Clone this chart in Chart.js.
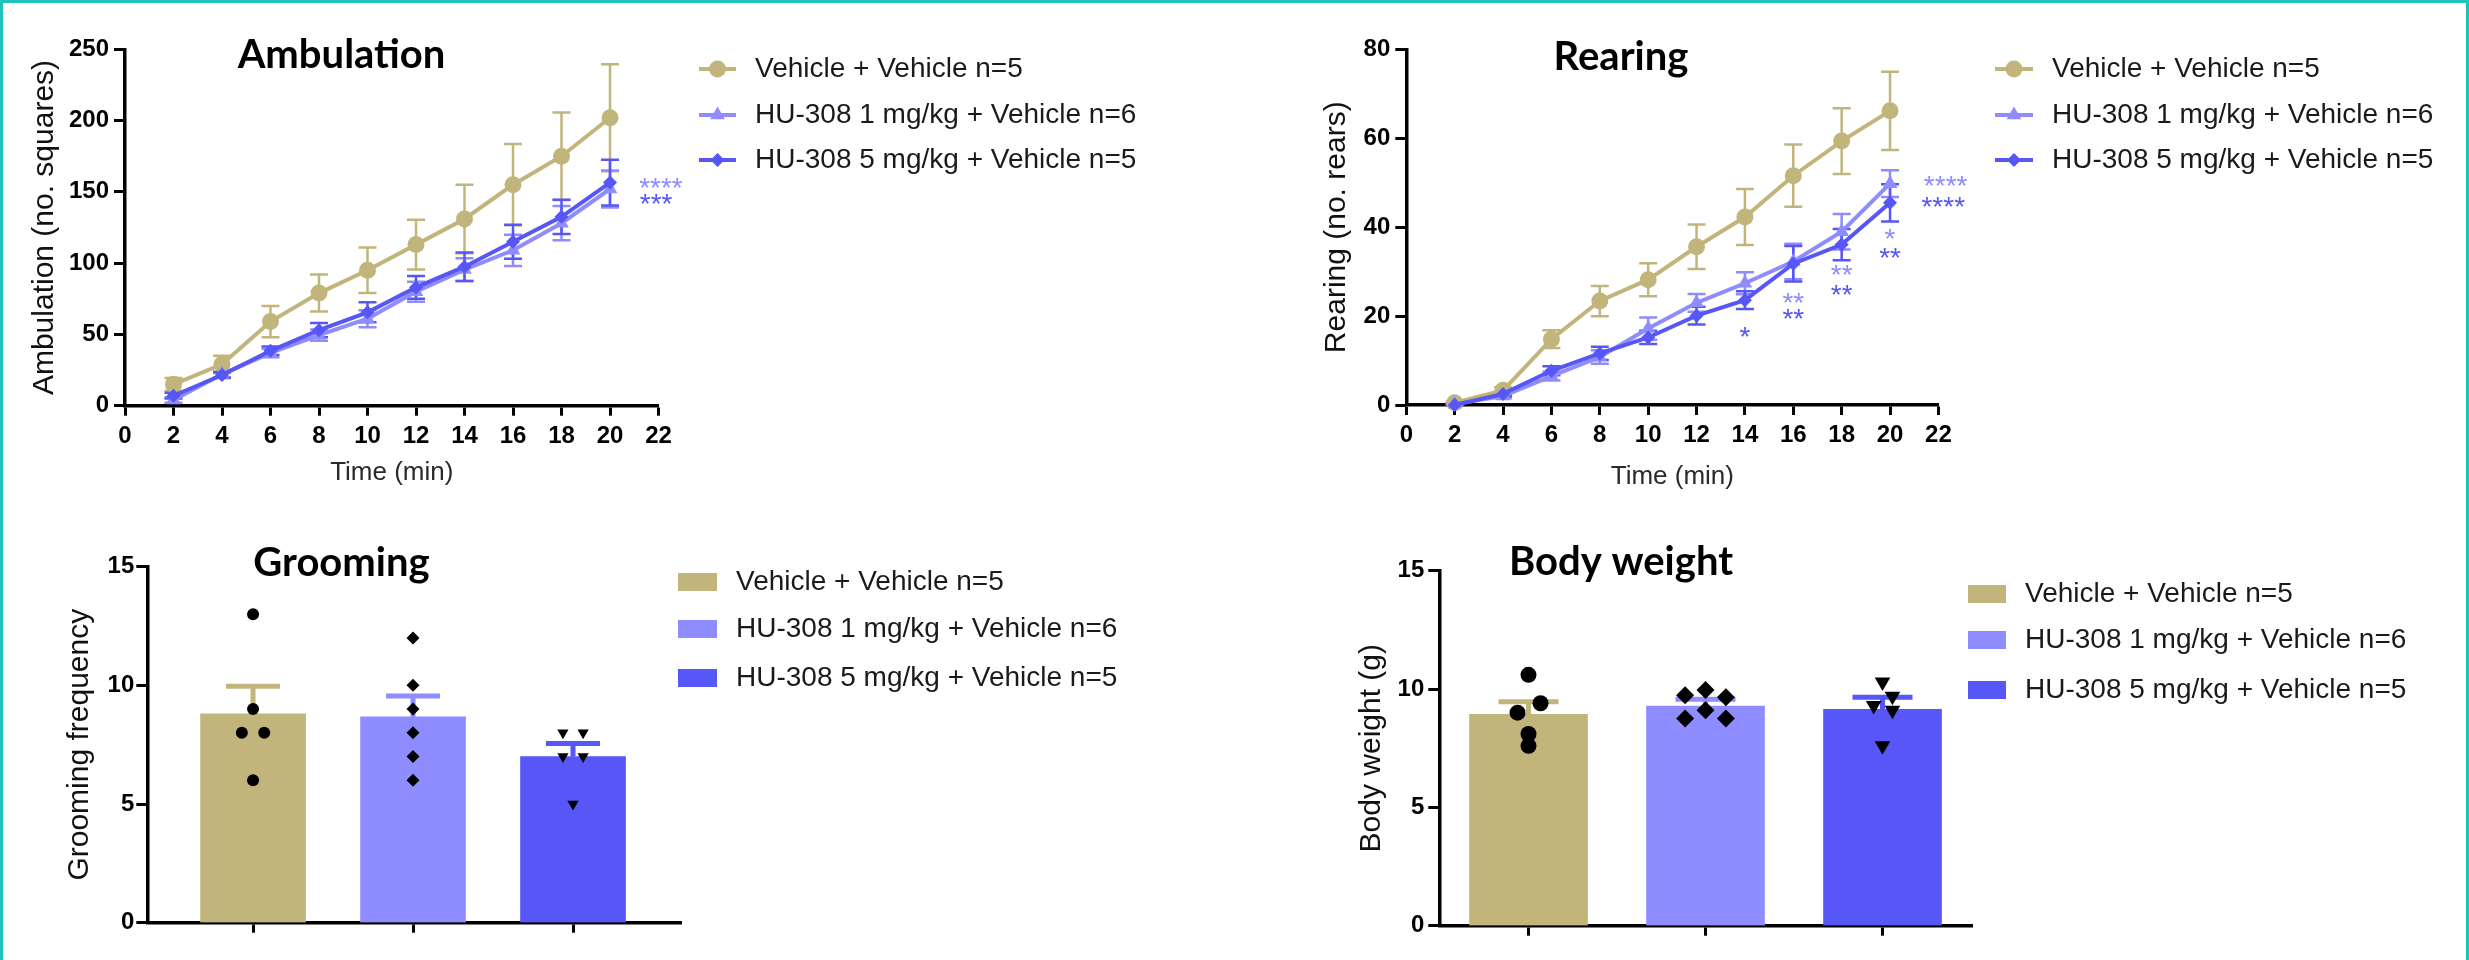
<!DOCTYPE html>
<html lang="en">
<head>
<meta charset="UTF-8">
<title>HU-308: ambulation, rearing, grooming and body weight</title>
<script src="https://cdn.jsdelivr.net/npm/chart.js"></script>
<style>
  html, body { margin: 0; background: #fff; }
  #figure { position: relative; width: 2469px; height: 960px; overflow: hidden; }
  #figure canvas { position: absolute; }
  #frame { position: absolute; left: 0; top: 0; right: 0; bottom: 0; border: 3px solid #1fc1bb; border-bottom: none; pointer-events: none; }
</style>
</head>
<body>
<div id="figure">
  <canvas id="ambulation" width="1234" height="500" style="left:0;top:0"></canvas>
  <canvas id="rearing" width="1235" height="500" style="left:1234px;top:0"></canvas>
  <canvas id="grooming" width="1234" height="460" style="left:0;top:500px"></canvas>
  <canvas id="bodyweight" width="1235" height="460" style="left:1234px;top:500px"></canvas>
  <div id="frame"></div>
</div>
<script>
// treatment groups
const groups = ['Vehicle + Vehicle n=5', 'HU-308 1 mg/kg + Vehicle n=6', 'HU-308 5 mg/kg + Vehicle n=5'];
const groupColors = ['#c1b57c', '#8e8cff', '#5756f7'];
const timeMin = [2, 4, 6, 8, 10, 12, 14, 16, 18, 20];

// ambulation (no. squares), mean and SEM
const ambVehicle = [15, 29, 59, 79, 95, 113, 131, 155, 175, 202];
const ambVehicleErr = [4.5, 6, 11, 13, 16, 17.5, 24, 28.5, 30.7, 37.6];
const amb1mg = [4, 22, 37, 49.5, 61, 80, 95.5, 109, 128, 152];
const amb1mgErr = [2, 2, 3, 4, 6, 7, 8, 11, 12, 13];
const amb5mg = [7, 21.5, 38.5, 53, 65.5, 83, 97.5, 115, 132.5, 156.5];
const amb5mgErr = [2, 2, 3, 5, 7, 8, 10, 12, 12, 16];

// rearing (no. rears), mean and SEM
const rearVehicle = [0.5, 3.3, 14.8, 23.4, 28.2, 35.6, 42.3, 51.6, 59.4, 66.2];
const rearVehicleErr = [0.3, 0.7, 2, 3.4, 3.7, 5, 6.3, 7, 7.4, 8.8];
const rear1mg = [0.2, 2, 6.5, 10.8, 17.2, 23, 27.4, 32.3, 39, 49.8];
const rear1mgErr = [0.2, 0.5, 1, 1.5, 2.5, 2, 2.5, 4, 4, 3];
const rear5mg = [0, 2.5, 7.7, 11.6, 15.2, 20.1, 23.6, 31.8, 36.1, 45.5];
const rear5mgErr = [0.2, 0.5, 1, 1.5, 1.5, 2, 2, 4, 3.5, 4.2];

// significance marks vs vehicle (time, level, group index)
const ambStarText = ['****', '***'];
const ambStarTime = [22.1, 21.9];
const ambStarLevel = [158, 146.6];
const ambStarGroup = [1, 2];

const rearStarText = ['*', '**', '**', '**', '**', '*', '**', '****', '****'];
const rearStarTime = [14, 16, 16, 18, 18, 20, 20, 22.3, 22.2];
const rearStarLevel = [16.9, 24.5, 20.9, 30.8, 26.3, 38.9, 34.6, 50.8, 46.1];
const rearStarGroup = [2, 1, 2, 1, 2, 1, 2, 1, 2];

// grooming frequency: means, SEM, individual animals
const groomMean = [8.8, 8.67, 7.0];
const groomSem = [1.16, 0.88, 0.55];
const groomVehicle = [13, 9, 8, 8, 6];
const groom1mg = [12, 10, 9, 8, 7, 6];
const groom5mg = [8, 8, 7, 7, 5];
const groomSpread = [[0, 0, -0.07, 0.07, 0], [0, 0, 0, 0, 0, 0], [-0.063, 0.063, -0.063, 0.063, 0]];

// body weight (g)
const bodyMean = [8.93, 9.28, 9.14];
const bodySem = [0.53, 0.29, 0.51];
const bodyVehicle = [10.6, 9.4, 9.0, 8.1, 7.6];
const body1mg = [9.96, 9.74, 9.65, 9.1, 8.76, 8.76];
const body5mg = [10.3, 9.7, 9.3, 9.1, 7.6];
const bodySpread = [[0, 0.068, -0.062, 0, 0], [0, -0.115, 0.115, 0, -0.115, 0.115], [0, 0.056, -0.05, 0.056, 0]];

const lineMarkers = [
  { pointStyle: 'circle', radius: 8.5 },
  { pointStyle: 'triangle', radius: 8.5 },
  { pointStyle: 'rectRot', radius: 7 }
];
const dotMarkers = [
  { pointStyle: 'circle', rotation: 0 },
  { pointStyle: 'rectRot', rotation: 0 },
  { pointStyle: 'triangle', rotation: 180 }
];

Chart.defaults.font.family = '"Liberation Sans", Arial, sans-serif';
Chart.defaults.color = '#000';
const TICK_FONT = { size: 24, weight: 'bold' };
const FONT_SANS = '"Liberation Sans", Arial, sans-serif';

// mean ± SEM whiskers under the line series
const lineErrorBars = {
  id: 'lineErrorBars',
  beforeDatasetsDraw(chart) {
    const { ctx, scales: { x, y } } = chart;
    chart.data.datasets.forEach(ds => {
      if (!ds.err) return;
      ctx.save();
      ctx.strokeStyle = ds.borderColor;
      ctx.lineWidth = 2.5;
      ds.data.forEach((p, j) => {
        const px = x.getPixelForValue(p.x);
        const top = y.getPixelForValue(p.y + ds.err[j]);
        const bot = y.getPixelForValue(Math.max(0, p.y - ds.err[j]));
        ctx.beginPath();
        ctx.moveTo(px, top); ctx.lineTo(px, bot);
        ctx.moveTo(px - 9, top); ctx.lineTo(px + 9, top);
        ctx.moveTo(px - 9, bot); ctx.lineTo(px + 9, bot);
        ctx.stroke();
      });
      ctx.restore();
    });
  }
};

// upper SEM whisker on each bar, drawn before the dots
const barErrorBars = {
  id: 'barErrorBars',
  afterDatasetDraw(chart, args, opts) {
    const ds = chart.data.datasets[args.index];
    if (!ds.sem) return;
    const { ctx, scales: { y } } = chart;
    args.meta.data.forEach((bar, j) => {
      const top = y.getPixelForValue(ds.data[j].y + ds.sem[j]);
      ctx.save();
      ctx.strokeStyle = ds.backgroundColor[j];
      ctx.lineWidth = 5;
      ctx.beginPath();
      ctx.moveTo(bar.x, bar.y); ctx.lineTo(bar.x, top);
      ctx.moveTo(bar.x - opts.cap, top); ctx.lineTo(bar.x + opts.cap, top);
      ctx.stroke();
      ctx.restore();
    });
  }
};

const sigStars = {
  id: 'sigStars',
  afterDatasetsDraw(chart, args, opts) {
    if (!opts.text) return;
    const { ctx, scales: { x, y } } = chart;
    ctx.save();
    ctx.font = '28px ' + FONT_SANS;
    ctx.textAlign = 'center';
    ctx.textBaseline = 'alphabetic';
    opts.text.forEach((t, i) => {
      ctx.fillStyle = groupColors[opts.group[i]];
      ctx.fillText(t, x.getPixelForValue(opts.time[i]), y.getPixelForValue(opts.level[i]) + 28 * 0.58);
    });
    ctx.restore();
  }
};

// panel heading and the legend at the right of each panel
const panelDecor = {
  id: 'panelDecor',
  afterDraw(chart, args, opts) {
    const ctx = chart.ctx;
    ctx.save();
    ctx.fillStyle = '#000';
    ctx.font = 'bold 40px Lato, "Open Sans", sans-serif';
    ctx.textAlign = 'center';
    ctx.textBaseline = 'middle';
    ctx.fillText(opts.title, opts.titleX, opts.titleY);

    ctx.font = '28px ' + FONT_SANS;
    ctx.textAlign = 'left';
    groups.forEach((name, i) => {
      const y = opts.rows[i];
      const c = groupColors[i];
      if (opts.kind === 'line') {
        ctx.strokeStyle = c;
        ctx.lineWidth = 4;
        ctx.beginPath(); ctx.moveTo(opts.x0, y); ctx.lineTo(opts.x1, y); ctx.stroke();
        ctx.fillStyle = c;
        Chart.helpers.drawPoint(ctx, { pointStyle: lineMarkers[i].pointStyle, radius: lineMarkers[i].radius, rotation: 0, borderWidth: 0 }, (opts.x0 + opts.x1) / 2, y);
      } else {
        ctx.fillStyle = c;
        ctx.fillRect(opts.x0, y - 9, opts.x1 - opts.x0, 18);
      }
      ctx.fillStyle = '#1a1a1a';
      ctx.fillText(name, opts.textX, y);
    });
    ctx.restore();
  }
};

function axisGrid(len) {
  return { display: true, drawOnChartArea: false, drawTicks: true, tickLength: len, tickWidth: 3, tickColor: '#000' };
}
const axisBorder = { display: true, color: '#000', width: 3.5 };

function yScale(g, max, step, label) {
  return {
    type: 'linear', min: 0, max: max,
    ticks: { stepSize: step, font: TICK_FONT, color: '#000', padding: g.tickPad },
    grid: axisGrid(11),
    border: axisBorder,
    title: { display: true, text: label, font: { size: 30 }, color: '#111', padding: 0 },
    afterFit: s => { s.width = g.left - (g.yTitleX - 18); }
  };
}

function layoutFor(g, padBottom) {
  return { padding: { left: g.yTitleX - 18, right: g.w - g.right, top: g.top, bottom: padBottom } };
}

function lineChart(id, g, series, errs, yMax, yStep, yLabel, title, legend, stars) {
  const padBottom = g.h - g.xTitleY - 15.6;
  new Chart(document.getElementById(id), {
    type: 'line',
    data: {
      datasets: series.map((vals, i) => ({
        label: groups[i],
        data: timeMin.map((t, j) => ({ x: t, y: vals[j] })),
        err: errs[i],
        borderColor: groupColors[i],
        backgroundColor: groupColors[i],
        borderWidth: 4,
        pointStyle: lineMarkers[i].pointStyle,
        pointRadius: lineMarkers[i].radius,
        pointBorderWidth: 0,
        pointBackgroundColor: groupColors[i],
        tension: 0,
        clip: false,
        order: 2 - i
      }))
    },
    options: {
      responsive: false,
      animation: false,
      devicePixelRatio: 1,
      events: [],
      layout: layoutFor(g, padBottom),
      scales: {
        x: {
          type: 'linear', min: 0, max: 22,
          ticks: { stepSize: 2, font: TICK_FONT, color: '#000', padding: 6, maxRotation: 0, autoSkip: false },
          grid: axisGrid(10),
          border: axisBorder,
          title: { display: true, text: 'Time (min)', font: { size: 26 }, color: '#2a2a2a', padding: 0 },
          afterFit: s => { s.height = g.h - padBottom - g.bottom; }
        },
        y: yScale(g, yMax, yStep, yLabel)
      },
      plugins: {
        legend: { display: false },
        tooltip: { enabled: false },
        panelDecor: Object.assign({ title: title, titleX: g.titleX, titleY: g.titleY, kind: 'line' }, legend),
        sigStars: stars
      }
    },
    plugins: [lineErrorBars, sigStars, panelDecor]
  });
}

function barChart(id, g, means, sems, points, spread, sizes, yLabel, title, legend) {
  const datasets = [{
    type: 'bar',
    data: means.map((m, i) => ({ x: i + 1, y: m })),
    backgroundColor: groupColors,
    barThickness: g.barWidth,
    sem: sems,
    order: 3
  }];
  points.forEach((vals, i) => {
    datasets.push({
      type: 'scatter',
      data: vals.map((v, j) => ({ x: i + 1 + spread[i][j], y: v })),
      pointStyle: dotMarkers[i].pointStyle,
      pointRotation: dotMarkers[i].rotation,
      pointRadius: sizes[i],
      pointBackgroundColor: '#000',
      pointBorderWidth: 0,
      clip: false,
      order: 0
    });
  });
  new Chart(document.getElementById(id), {
    type: 'bar',
    data: { datasets },
    options: {
      responsive: false,
      animation: false,
      devicePixelRatio: 1,
      events: [],
      layout: layoutFor(g, 5),
      scales: {
        x: {
          type: 'linear', min: g.xMin, max: g.xMax, bounds: 'data', offset: false,
          afterBuildTicks: s => { s.ticks = [1, 2, 3].map(v => ({ value: v })); },
          ticks: { display: false },
          grid: Object.assign(axisGrid(10), { offset: false }),
          border: axisBorder,
          afterFit: s => { s.height = g.h - 5 - g.bottom; }
        },
        y: yScale(g, 15, 5, yLabel)
      },
      plugins: {
        legend: { display: false },
        tooltip: { enabled: false },
        barErrorBars: { cap: g.cap },
        panelDecor: Object.assign({ title: title, titleX: g.titleX, titleY: g.titleY, kind: 'box' }, legend)
      }
    },
    plugins: [barErrorBars, panelDecor]
  });
}

lineChart('ambulation',
  { w: 1234, h: 500, left: 125, right: 658.5, top: 49.3, bottom: 405.7, yTitleX: 44.6, xTitleY: 473, tickPad: 5, titleX: 341.5, titleY: 55 },
  [ambVehicle, amb1mg, amb5mg], [ambVehicleErr, amb1mgErr, amb5mgErr],
  250, 50, 'Ambulation (no. squares)', 'Ambulation',
  { x0: 699, x1: 736, textX: 755, rows: [69, 115, 160] },
  { text: ambStarText, time: ambStarTime, level: ambStarLevel, group: ambStarGroup });

lineChart('rearing',
  { w: 1235, h: 500, left: 172.3, right: 704.4, top: 49.5, bottom: 405, yTitleX: 102.6, xTitleY: 477, tickPad: 5, titleX: 387, titleY: 57 },
  [rearVehicle, rear1mg, rear5mg], [rearVehicleErr, rear1mgErr, rear5mgErr],
  80, 20, 'Rearing (no. rears)', 'Rearing',
  { x0: 761, x1: 799, textX: 818, rows: [69, 115, 160] },
  { text: rearStarText, time: rearStarTime, level: rearStarLevel, group: rearStarGroup });

barChart('grooming',
  { w: 1234, h: 460, left: 147.3, right: 681, top: 66.7, bottom: 422.7, yTitleX: 80, tickPad: 2, xMin: 0.339, xMax: 3.675, barWidth: 105, cap: 27, titleX: 341.5, titleY: 63 },
  groomMean, groomSem, [groomVehicle, groom1mg, groom5mg], groomSpread, [6, 6.5, 6.5],
  'Grooming frequency', 'Grooming',
  { x0: 678, x1: 717, textX: 736, rows: [82, 129, 178] });

barChart('bodyweight',
  { w: 1235, h: 460, left: 205.3, right: 738.6, top: 70.7, bottom: 425.7, yTitleX: 138, tickPad: 4, xMin: 0.496, xMax: 3.509, barWidth: 118, cap: 30, titleX: 387, titleY: 62 },
  bodyMean, bodySem, [bodyVehicle, body1mg, body5mg], bodySpread, [8, 9, 9],
  'Body weight (g)', 'Body weight',
  { x0: 734, x1: 772, textX: 791, rows: [94, 140, 190] });
</script>
</body>
</html>
